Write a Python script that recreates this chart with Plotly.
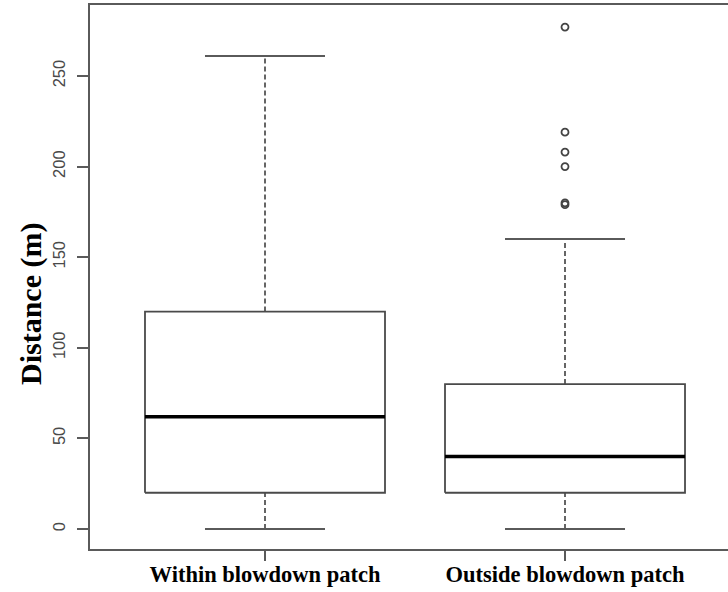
import plotly.graph_objects as go

# ---- data ----
categories = ["Within blowdown patch", "Outside blowdown patch"]
q1 = [20, 20]
median = [62, 40]
q3 = [120, 80]
whisker_low = [0, 0]
whisker_high = [261, 160]
outliers = [[], [179, 180, 200, 208, 219, 277]]
y_ticks = [0, 50, 100, 150, 200, 250]

# ---- styles ----
LINE = "#4a4a4a"
BOX_HALF = 0.4
CAP_HALF = 0.2

fig = go.Figure()
for i, cat in enumerate(categories):
    c = i + 1
    # dashed whiskers
    fig.add_trace(go.Scatter(x=[c, c, None, c, c],
                             y=[q3[i], whisker_high[i], None, whisker_low[i], q1[i]],
                             mode="lines", line=dict(color="#333333", width=1.5, dash="5px,3px"),
                             showlegend=False, hoverinfo="skip"))
    # caps
    fig.add_trace(go.Scatter(x=[c - CAP_HALF, c + CAP_HALF, None, c - CAP_HALF, c + CAP_HALF],
                             y=[whisker_high[i], whisker_high[i], None, whisker_low[i], whisker_low[i]],
                             mode="lines", line=dict(color="#5a5a5a", width=2),
                             showlegend=False, hoverinfo="skip"))
    # box
    fig.add_trace(go.Scatter(x=[c - BOX_HALF, c + BOX_HALF, c + BOX_HALF, c - BOX_HALF, c - BOX_HALF],
                             y=[q1[i], q1[i], q3[i], q3[i], q1[i]],
                             mode="lines", line=dict(color=LINE, width=1.8),
                             showlegend=False, hoverinfo="skip"))
    # median
    fig.add_trace(go.Scatter(x=[c - BOX_HALF, c + BOX_HALF], y=[median[i], median[i]],
                             mode="lines", line=dict(color="#000000", width=3.5),
                             showlegend=False, hoverinfo="skip"))
    # outliers
    if outliers[i]:
        fig.add_trace(go.Scatter(x=[c] * len(outliers[i]), y=outliers[i], mode="markers",
                                 marker=dict(symbol="circle-open", size=7, color="#444444",
                                             line=dict(color="#444444", width=1.8)),
                                 showlegend=False, hoverinfo="skip"))

fig.update_layout(
    width=728, height=592,
    margin=dict(l=90, r=0, t=5, b=43),
    plot_bgcolor="white", paper_bgcolor="white",
    showlegend=False,
    xaxis=dict(range=[0.4167, 2.5433], tickvals=[1, 2], ticktext=categories,
               showgrid=False, zeroline=False, showline=True, mirror=True,
               linecolor="#5a5a5a", linewidth=2,
               ticks="outside", ticklen=10, tickwidth=2, tickcolor="#5a5a5a",
               tickfont=dict(family="Liberation Serif", size=22.5, color="#000000",
                             weight="bold"),
               ticklabelstandoff=-6),
    yaxis=dict(range=[-11.04, 289.2], tickvals=y_ticks,
               ticktext=[str(v) for v in y_ticks],
               showgrid=False, zeroline=False, showline=True,
               linecolor="#5a5a5a", linewidth=2,
               ticks="outside", ticklen=11, tickwidth=2, tickcolor="#5a5a5a",
               tickangle=-90, ticklabelstandoff=5,
               tickfont=dict(family="Liberation Sans", size=16.5, color="#4a4a4a")),
    annotations=[dict(text="<b>Distance (m)</b>", xref="paper", yref="paper",
                      x=(31 - 90) / 638, y=(549 - 304) / 544,
                      xanchor="center", yanchor="middle", textangle=-90, showarrow=False,
                      font=dict(family="Liberation Serif", size=30, color="#000000"))],
)

fig.write_html("out.html")
